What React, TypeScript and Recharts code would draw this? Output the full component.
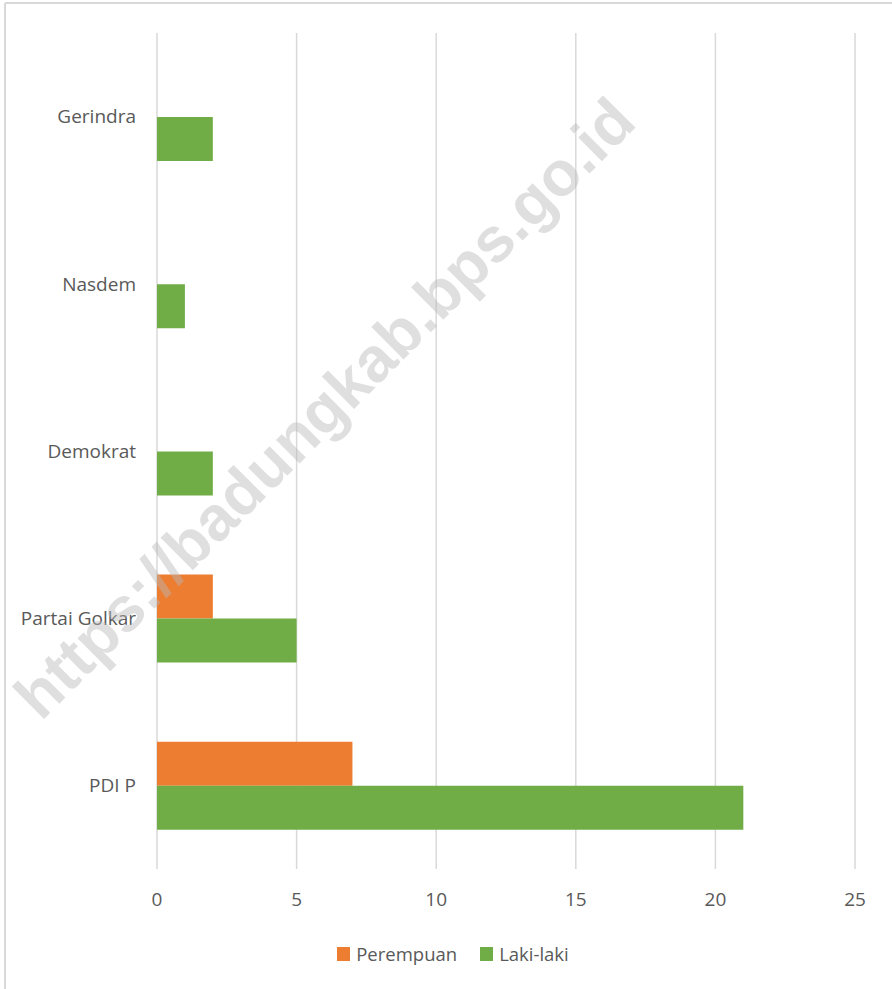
import { BarChart, Bar, XAxis, YAxis, CartesianGrid, Legend } from 'recharts'

const categories = ['Gerindra', 'Nasdem', 'Demokrat', 'Partai Golkar', 'PDI P']
const perempuan = [0, 0, 0, 2, 7]
const lakiLaki = [2, 1, 2, 5, 21]
const xTicks = [0, 5, 10, 15, 20, 25]
const seriesOrder = ['Perempuan', 'Laki-laki']

const COLORS = {
  perempuan: '#ED7D31',
  lakiLaki: '#70AD47',
  grid: '#D9D9D9',
  text: '#595959'
}

const FONT = '"Open Sans", "Noto Sans", sans-serif'

const data = categories.map((name, i) => ({
  name,
  perempuan: perempuan[i],
  lakiLaki: lakiLaki[i]
}))

function LegendContent({ payload }: any) {
  // keep series order, recharts sorts legend items by name
  const items = [...(payload || [])].sort((a: any, b: any) => seriesOrder.indexOf(a.value) - seriesOrder.indexOf(b.value))
  return (
    <div style={{ display: 'flex', justifyContent: 'center', paddingLeft: 14, fontFamily: FONT, fontSize: 18.5, color: COLORS.text, lineHeight: '26px' }}>
      {items.map((entry: any, i: number) => (
        <div key={entry.value} style={{ display: 'flex', alignItems: 'center', marginLeft: i === 0 ? 0 : 23 }}>
          <span style={{ display: 'inline-block', width: 13, height: 14, background: entry.color, marginRight: 6 }} />
          <span>{entry.value}</span>
        </div>
      ))}
    </div>
  )
}

export default function App() {
  return (
    <div style={{ position: 'absolute', left: 0, top: 0, width: 892, height: 989, background: '#fff' }}>
      <BarChart
        width={892}
        height={989}
        data={data}
        layout="vertical"
        margin={{ top: 33, right: 37, bottom: 0, left: 0 }}
        barGap={0}
        barSize={44}
      >
        <CartesianGrid horizontal={false} stroke={COLORS.grid} strokeWidth={1.5} />
        <XAxis
          type="number"
          domain={[0, 25]}
          ticks={xTicks}
          axisLine={false}
          tickLine={false}
          tickSize={0}
          tickMargin={24}
          height={120}
          tick={{ fill: COLORS.text, fontSize: 19, fontFamily: FONT }}
        />
        <YAxis
          type="category"
          dataKey="name"
          width={157}
          axisLine={false}
          tickLine={false}
          tickSize={0}
          tickMargin={21}
          tick={{ fill: COLORS.text, fontSize: 19, fontFamily: FONT }}
        />
        <Legend
          verticalAlign="middle"
          layout="horizontal"
          content={<LegendContent />}
          wrapperStyle={{ top: 941, left: 0, width: 892 }}
        />
        <Bar dataKey="perempuan" name="Perempuan" fill={COLORS.perempuan} isAnimationActive={false} />
        <Bar dataKey="lakiLaki" name="Laki-laki" fill={COLORS.lakiLaki} isAnimationActive={false} />
      </BarChart>
      <svg width={892} height={989} style={{ position: 'absolute', left: 0, top: 0, pointerEvents: 'none' }}>
        <line x1={5} y1={3} x2={892} y2={3} stroke={COLORS.grid} strokeWidth={2} />
        <line x1={5} y1={3} x2={5} y2={989} stroke={COLORS.grid} strokeWidth={2} />
        <text
          x={41}
          y={722}
          transform="rotate(-45 41 722)"
          fontFamily='"Liberation Sans", Arial, sans-serif'
          fontWeight="bold"
          fontSize={63}
          textLength={845}
          lengthAdjust="spacing"
          fill="#b8b8b8"
          fillOpacity={0.45}
        >
          https://badungkab.bps.go.id
        </text>
      </svg>
    </div>
  )
}
